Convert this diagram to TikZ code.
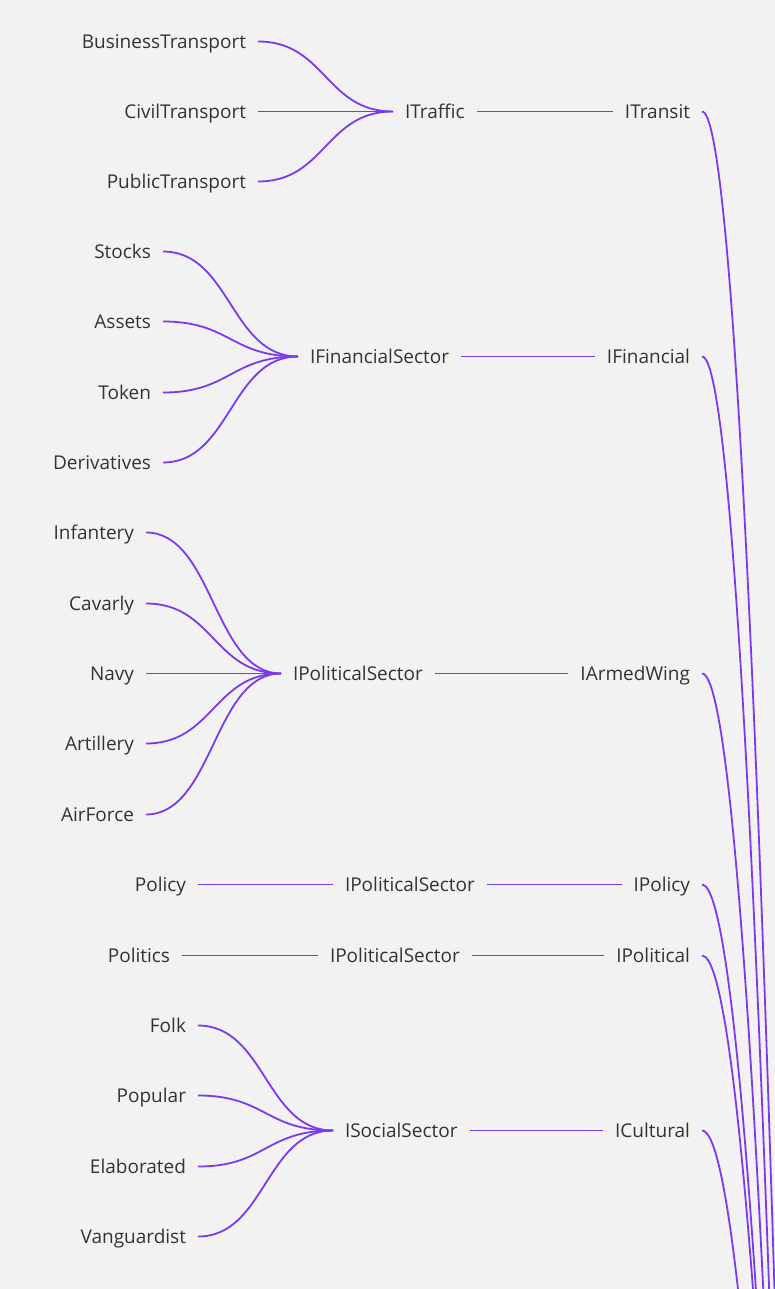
\documentclass[tikz,border=0pt]{standalone}
\usepackage{fontspec}
\setmainfont{Open Sans}
\definecolor{bgc}{HTML}{F2F2F2}
\definecolor{linkc}{HTML}{7C3AED}
\definecolor{txtc}{HTML}{333333}
\begin{document}
\begin{tikzpicture}[x=1pt,y=-1pt,
  lbl/.style={inner sep=0pt, outer xsep=12pt, outer ysep=0pt, text height=15pt, text depth=1pt,
              font=\fontsize{19}{22}\selectfont, text=txtc},
  lnk/.style={draw=linkc, line width=1.8pt}]
\fill[bgc] (0,0) rectangle (775,1289);
\useasboundingbox (0,0) rectangle (775,1289);
\clip (0,0) rectangle (775,1289);

% group 1
\node[lbl,anchor=east] (bt) at (258,41.5) {BusinessTransport};
\node[lbl,anchor=east] (ct) at (258,111.5) {CivilTransport};
\node[lbl,anchor=east] (pt) at (258,181.5) {PublicTransport};
\node[lbl,anchor=west] (itraffic) at (393,111.5) {ITraffic};
\node[lbl,anchor=east] (itransit) at (702,111.5) {ITransit};
% group 2
\node[lbl,anchor=east] (stocks) at (163,251.5) {Stocks};
\node[lbl,anchor=east] (assets) at (163,321.5) {Assets};
\node[lbl,anchor=east] (token) at (163,392.5) {Token};
\node[lbl,anchor=east] (deriv) at (163,462.5) {Derivatives};
\node[lbl,anchor=west] (ifs) at (298,356.5) {IFinancialSector};
\node[lbl,anchor=east] (ifin) at (702,356.5) {IFinancial};
% group 3
\node[lbl,anchor=east] (inf) at (146,532.5) {Infantery};
\node[lbl,anchor=east] (cav) at (146,603.5) {Cavarly};
\node[lbl,anchor=east] (navy) at (146,673.5) {Navy};
\node[lbl,anchor=east] (art) at (146,743.5) {Artillery};
\node[lbl,anchor=east] (air) at (146,814.5) {AirForce};
\node[lbl,anchor=west] (ips1) at (281,673.5) {IPoliticalSector};
\node[lbl,anchor=east] (iarmed) at (702,673.5) {IArmedWing};
% group 4
\node[lbl,anchor=east] (policy) at (198,884.5) {Policy};
\node[lbl,anchor=west] (ips2) at (333,884.5) {IPoliticalSector};
\node[lbl,anchor=east] (ipolicy) at (702,884.5) {IPolicy};
% group 5
\node[lbl,anchor=east] (politics) at (182,955.5) {Politics};
\node[lbl,anchor=west] (ips3) at (318,955.5) {IPoliticalSector};
\node[lbl,anchor=east] (ipolitical) at (702,955.5) {IPolitical};
% group 6
\node[lbl,anchor=east] (folk) at (198,1025.5) {Folk};
\node[lbl,anchor=east] (popular) at (198,1095.5) {Popular};
\node[lbl,anchor=east] (elab) at (198,1166.5) {Elaborated};
\node[lbl,anchor=east] (vang) at (198,1236.5) {Vanguardist};
\node[lbl,anchor=west] (iss) at (333,1130.5) {ISocialSector};
\node[lbl,anchor=east] (icult) at (702,1130.5) {ICultural};

% root-side ends (off the picture)
\coordinate (r1) at (774.8,1300);
\coordinate (r2) at (769.5,1300);
\coordinate (r3) at (763.8,1300);
\coordinate (r4) at (756.6,1300);
\coordinate (r5) at (753.8,1300);
\coordinate (r6) at (739.2,1300);

% leaf links
\foreach \a/\b in {bt/itraffic,ct/itraffic,pt/itraffic,
                   stocks/ifs,assets/ifs,token/ifs,deriv/ifs,
                   inf/ips1,cav/ips1,navy/ips1,art/ips1,air/ips1,
                   folk/iss,popular/iss,elab/iss,vang/iss}
  \draw[lnk] (\a.east) .. controls +(67.5,0) and +(-67.5,0) .. (\b.west);
\draw[lnk] (policy.east) -- (ips2.west);
\draw[lnk] (politics.east) -- (ips3.west);

% hub to level-1 links
\draw[lnk] (itraffic.east) -- (itransit.west);
\draw[lnk] (ifs.east) -- (ifin.west);
\draw[lnk] (ips1.east) -- (iarmed.west);
\draw[lnk] (ips2.east) -- (ipolicy.west);
\draw[lnk] (ips3.east) -- (ipolitical.west);
\draw[lnk] (iss.east) -- (icult.west);

% level-1 to root links
\draw[lnk] (itransit.east) .. controls +(24.3,0) and (750.5,507.5) .. (r1);
\draw[lnk] (ifin.east) .. controls +(22.5,0) and (747,671.6) .. (r2);
\draw[lnk] (iarmed.east) .. controls +(20.6,0) and (743.2,882.5) .. (r3);
\draw[lnk] (ipolicy.east) .. controls +(18.2,0) and (738.4,1023.1) .. (r4);
\draw[lnk] (ipolitical.east) .. controls +(17.3,0) and (736.5,1069.9) .. (r5);
\draw[lnk] (icult.east) .. controls +(12.4,0) and (726.8,1187.1) .. (r6);
\end{tikzpicture}
\end{document}
